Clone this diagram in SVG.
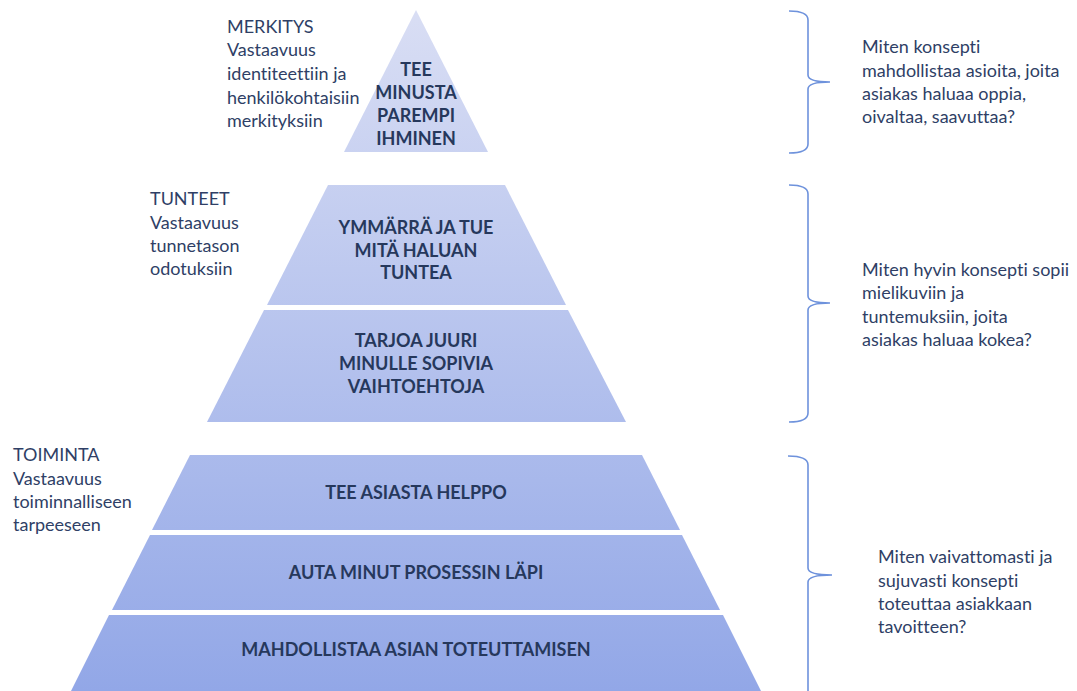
<svg xmlns="http://www.w3.org/2000/svg" width="1077" height="691" viewBox="0 0 1077 691">
  <style>
    .tier { fill: url(#tierFill); }
    .tier-text { font-family: Lato, "Liberation Sans", sans-serif; font-weight: bold; font-size: 18px; fill: #26385c; text-anchor: middle; font-variant-ligatures: none; }
    .label { font-family: Lato, "Liberation Sans", sans-serif; font-size: 18px; fill: #2f3f66; font-variant-ligatures: none; }
    .brace { fill: none; stroke: #6e92dc; stroke-width: 1.6; }
  </style>
  <defs>
    <linearGradient id="tierFill" gradientUnits="userSpaceOnUse" x1="0" y1="10" x2="0" y2="691">
      <stop offset="0" stop-color="#d9def4"/>
      <stop offset="1" stop-color="#92a7e7"/>
    </linearGradient>
  </defs>
  <rect width="1077" height="691" fill="#ffffff"/>

  <!-- pyramid tiers -->
  <g id="tier-meaning">
    <polygon class="tier" points="416,10 488,152 344,152"/>
    <text class="tier-text" x="416" y="76">TEE</text>
    <text class="tier-text" x="416" y="99">MINUSTA</text>
    <text class="tier-text" x="416" y="122">PAREMPI</text>
    <text class="tier-text" x="416" y="145">IHMINEN</text>
  </g>
  <g id="tier-understand">
    <polygon class="tier" points="328,185 505,185 566,305 267,305"/>
    <text class="tier-text" x="416" y="234">YMMÄRRÄ JA TUE</text>
    <text class="tier-text" x="416" y="257">MITÄ HALUAN</text>
    <text class="tier-text" x="416" y="279">TUNTEA</text>
  </g>
  <g id="tier-options">
    <polygon class="tier" points="264,310 568,310 626,422 207,422"/>
    <text class="tier-text" x="416" y="347">TARJOA JUURI</text>
    <text class="tier-text" x="416" y="370">MINULLE SOPIVIA</text>
    <text class="tier-text" x="416" y="393">VAIHTOEHTOJA</text>
  </g>
  <g id="tier-easy">
    <polygon class="tier" points="190,455 642,455 680,530 152,530"/>
    <text class="tier-text" x="416" y="499">TEE ASIASTA HELPPO</text>
  </g>
  <g id="tier-process">
    <polygon class="tier" points="150,535 682,535 720,610 112,610"/>
    <text class="tier-text" x="416" y="579">AUTA MINUT PROSESSIN LÄPI</text>
  </g>
  <g id="tier-enable">
    <polygon class="tier" points="109,615 723,615 761,691 71,691"/>
    <text class="tier-text" x="416" y="656">MAHDOLLISTAA ASIAN TOTEUTTAMISEN</text>
  </g>

  <!-- left-hand level labels -->
  <g id="label-merkitys">
    <text class="label" x="227" y="33">MERKITYS</text>
    <text class="label" x="227" y="56">Vastaavuus</text>
    <text class="label" x="227" y="80">identiteettiin ja</text>
    <text class="label" x="227" y="104">henkilökohtaisiin</text>
    <text class="label" x="227" y="127">merkityksiin</text>
  </g>
  <g id="label-tunteet">
    <text class="label" x="150" y="205">TUNTEET</text>
    <text class="label" x="150" y="229">Vastaavuus</text>
    <text class="label" x="150" y="252">tunnetason</text>
    <text class="label" x="150" y="275">odotuksiin</text>
  </g>
  <g id="label-toiminta">
    <text class="label" x="13" y="461">TOIMINTA</text>
    <text class="label" x="13" y="485">Vastaavuus</text>
    <text class="label" x="13" y="508">toiminnalliseen</text>
    <text class="label" x="13" y="531">tarpeeseen</text>
  </g>

  <!-- right-hand questions -->
  <g id="question-meaning">
    <text class="label" x="862" y="53">Miten konsepti</text>
    <text class="label" x="862" y="77">mahdollistaa asioita, joita</text>
    <text class="label" x="862" y="100">asiakas haluaa oppia,</text>
    <text class="label" x="862" y="123">oivaltaa, saavuttaa?</text>
  </g>
  <g id="question-feelings">
    <text class="label" x="862" y="276">Miten hyvin konsepti sopii</text>
    <text class="label" x="862" y="299">mielikuviin ja</text>
    <text class="label" x="862" y="323">tuntemuksiin, joita</text>
    <text class="label" x="862" y="346">asiakas haluaa kokea?</text>
  </g>
  <g id="question-action">
    <text class="label" x="878" y="563">Miten vaivattomasti ja</text>
    <text class="label" x="878" y="587">sujuvasti konsepti</text>
    <text class="label" x="878" y="610">toteuttaa asiakkaan</text>
    <text class="label" x="878" y="633">tavoitteen?</text>
  </g>

  <!-- braces -->
  <g id="connectors">
    <path class="brace" d="M789,11 Q808,11 808,20 L808,75 Q808,82 830,82 Q808,82 808,89 L808,144 Q808,153 789,153"/>
    <path class="brace" d="M789,185 Q808,185 808,194 L808,296 Q808,303 830,303 Q808,303 808,310 L808,413 Q808,422 789,422"/>
    <path class="brace" d="M788,456 Q808,456 808,465 L808,568 Q808,575 832,575 Q808,575 808,582 L808,700"/>
  </g>
</svg>
